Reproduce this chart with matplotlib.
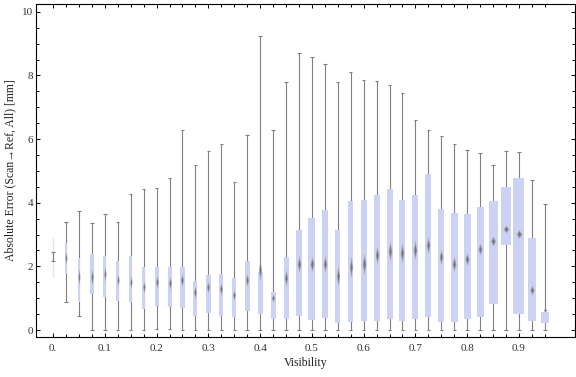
import numpy as np
import matplotlib
matplotlib.use("Agg")
import matplotlib.pyplot as plt

plt.rcParams['font.family'] = ['Liberation Serif', 'DejaVu Serif']

# visibility bins (box centres)
visibility = [0.0, 0.025, 0.05, 0.075, 0.1, 0.125, 0.15, 0.175, 0.2, 0.225,
              0.25, 0.275, 0.3, 0.325, 0.35, 0.375, 0.4, 0.425, 0.45, 0.475,
              0.5, 0.525, 0.55, 0.575, 0.6, 0.625, 0.65, 0.675, 0.7, 0.725,
              0.75, 0.775, 0.8, 0.825, 0.85, 0.875, 0.9, 0.925, 0.95]

whisk_lo = [2.17, 0.89, 0.43, 0.0, 0.0, 0.0, 0.0, 0.0, 0.02, 0.02,
            0.0, 0.0, 0.0, 0.0, 0.0, 0.0, 0.0, 0.0, 0.0, 0.0,
            0.0, 0.0, 0.0, 0.0, 0.0, 0.0, 0.0, 0.0, 0.0, 0.0,
            0.0, 0.0, 0.0, 0.0, 0.0, 0.0, 0.0, 0.0, 0.0]
q1 = [1.66, 1.76, 0.89, 1.14, 1.03, 0.92, 0.87, 0.66, 0.76, 0.73,
      0.70, 0.45, 0.54, 0.45, 0.42, 0.61, 0.51, 0.36, 0.36, 0.45,
      0.32, 0.39, 0.21, 0.26, 0.29, 0.29, 0.36, 0.29, 0.36, 0.42,
      0.26, 0.25, 0.35, 0.42, 0.83, 2.68, 0.50, 0.28, 0.22]
median = [2.30, 2.25, 1.67, 1.67, 1.76, 1.57, 1.52, 1.36, 1.52, 1.47,
          1.57, 1.20, 1.34, 1.28, 1.10, 1.57, 1.88, 1.02, 1.62, 2.09,
          2.07, 2.09, 1.70, 1.99, 2.07, 2.35, 2.49, 2.41, 2.51, 2.67,
          2.28, 2.07, 2.23, 2.54, 2.80, 3.17, 3.01, 1.26, 0.63]
q3 = [2.91, 2.72, 2.27, 2.38, 2.32, 2.17, 2.32, 1.97, 1.98, 1.98,
      1.98, 1.54, 1.73, 1.76, 1.63, 2.17, 1.82, 1.18, 2.29, 3.14,
      3.52, 3.77, 3.14, 4.05, 4.08, 4.24, 4.43, 4.08, 4.24, 4.90,
      3.80, 3.67, 3.64, 3.86, 4.05, 4.49, 4.77, 2.89, 0.57]
whisk_hi = [2.45, 3.41, 3.73, 3.36, 3.66, 3.38, 4.29, 4.42, 4.45, 4.79,
            6.30, 5.20, 5.61, 5.84, 4.65, 6.14, 9.23, 6.27, 7.78, 8.72,
            8.58, 8.37, 7.78, 8.12, 7.87, 7.84, 7.69, 7.46, 6.61, 6.27,
            6.10, 5.86, 5.67, 5.55, 5.20, 5.61, 5.58, 4.73, 3.95]

# box widths and median-marker heights as measured on the picture (pixels)
box_w_px = [1.0, 2.3, 2.3, 3.3, 3, 3, 3, 3.3, 4, 4,
            4.3, 4, 4.3, 4.3, 4.3, 4.7, 5, 5, 5, 6,
            7, 6, 5, 5, 6, 6, 6, 6, 6, 6,
            6, 7, 7, 7, 9, 11, 11, 8, 8]
med_h_px = [0, 13, 17, 17, 15, 13, 13, 13, 13, 13,
            13, 13, 12, 13, 10, 13, 20, 8, 17, 17,
            15, 17, 20, 22, 22, 18, 20, 20, 20, 17,
            15, 15, 13, 12, 10, 8, 9, 10, 4]

x_major = [0.0, 0.1, 0.2, 0.3, 0.4, 0.5, 0.6, 0.7, 0.8, 0.9]
x_major_labels = ["0.", "0.1", "0.2", "0.3", "0.4", "0.5", "0.6", "0.7", "0.8", "0.9"]
y_major = [0, 2, 4, 6, 8, 10]

box_color = '#cbd2f4'
whisk_color = '#7f7f7f'
px_per_unit = 518.0   # x pixels per visibility unit

fig = plt.figure(figsize=(5.76, 3.77), dpi=100)
ax = fig.add_axes([0.0625, 0.106, 0.9355, 0.883])

for i, x in enumerate(visibility):
    w = box_w_px[i] / px_per_unit
    cap = 1.7 / px_per_unit
    ax.vlines(x, whisk_lo[i], whisk_hi[i], color=whisk_color, lw=0.8, zorder=2)
    ax.hlines([whisk_lo[i], whisk_hi[i]], x - cap, x + cap, color=whisk_color, lw=0.8, zorder=2)
    if box_w_px[i] <= 1:
        # hairline box: drawn as a faint line under the whisker
        ax.vlines(x, q1[i], q3[i], color='#e4e4ea', lw=1.0, zorder=1)
    else:
        ax.bar(x, q3[i] - q1[i], bottom=q1[i], width=w, color=box_color, lw=0, zorder=3)
    if med_h_px[i] > 0:
        dw = 0.45 * box_w_px[i] + 1.0
        r = dw / med_h_px[i]
        ax.plot(x, median[i], marker=[(0, -1), (r, 0), (0, 1), (-r, 0), (0, -1)],
                ms=med_h_px[i] * 0.72, color='#888888', mew=0, alpha=0.55, zorder=4)
        ax.plot(x, median[i], marker=[(0, -1), (r, 0), (0, 1), (-r, 0), (0, -1)],
                ms=med_h_px[i] * 0.72 * 0.6, color='#6e6e6e', mew=0, alpha=0.8, zorder=5)

ax.set_xlim(-0.033, 1.008)
ax.set_ylim(-0.22, 10.24)
ax.set_xticks(x_major)
ax.set_xticklabels(x_major_labels)
ax.set_xticks(visibility, minor=True)
ax.set_yticks(y_major)
ax.set_yticks(np.arange(0, 10.01, 0.5), minor=True)

ax.tick_params(which='both', direction='in', top=True, right=True, width=0.7,
               labelsize=8, labelcolor='#333333', color='black')
ax.tick_params(which='major', length=3.2)
ax.tick_params(which='minor', length=2.0)
ax.tick_params(axis='x', pad=5)
ax.tick_params(axis='y', pad=2)
for s in ax.spines.values():
    s.set_linewidth(0.8)

ax.set_xlabel("Visibility", fontsize=8.5, color='#222222', labelpad=3)
ax.set_ylabel("Absolute Error (Scan\u2192Ref, All) [mm]", fontsize=8.5, color='#222222', labelpad=4)

fig.savefig("out.png", dpi=100)
